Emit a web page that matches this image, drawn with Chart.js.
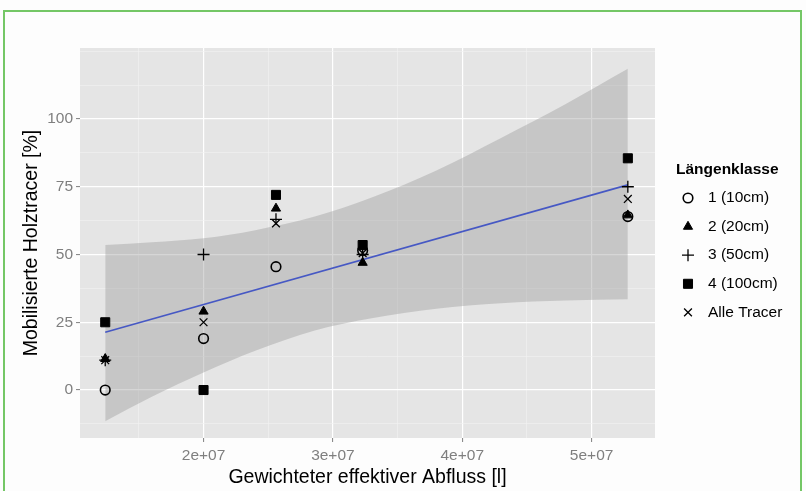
<!DOCTYPE html>
<html>
<head>
<meta charset="utf-8">
<script src="https://cdn.jsdelivr.net/npm/chart.js@4/dist/chart.umd.min.js"></script>
<style>
  html, body { margin: 0; padding: 0; background: #fdfdfd; }
  canvas { display: block; }
</style>
</head>
<body>
<canvas id="myChart" width="806" height="491"></canvas>
<script>
// data
const abfluss = [1.24e7, 2.0e7, 2.56e7, 3.23e7, 5.28e7];
const klasse10 = [0, 19, 45.5, 51.5, 64];
const klasse20 = [11.5, 29, 67, 47, 64.5];
const klasse50 = [11, 50, 63, 50, 75];
const klasse100 = [25, 0, 72, 53.5, 85.5];
const alleTracer = [11, 25, 61.5, 50.5, 70.5];

const fitX = [1.24e7, 5.28e7];
const fitY = [21.3, 75.7];

const ribbonX = [1.24e7, 1.6e7, 2.0e7, 2.4e7, 2.86e7, 3.3e7, 3.8e7, 4.3e7, 4.8e7, 5.28e7];
const ribbonUpper = [53.5, 54.5, 56, 59, 64, 71, 81, 93, 105.5, 118.5];
const ribbonLower = [-11.5, -2.5, 6.5, 14.5, 22, 26.5, 30, 32, 33, 33.5];

const yGrid = [-12.5, 0, 12.5, 25, 37.5, 50, 62.5, 75, 87.5, 100, 112.5, 125];
const xGrid = [1.5e7, 2e7, 2.5e7, 3e7, 3.5e7, 4e7, 4.5e7, 5e7];
const yMajor = [0, 25, 50, 75, 100];
const xMajor = [2e7, 3e7, 4e7, 5e7];

const legendTitle = 'Längenklasse';
const seriesNames = ['1 (10cm)', '2 (20cm)', '3 (50cm)', '4 (100cm)', 'Alle Tracer'];

const pts = (xs, ys) => xs.map((x, i) => ({x: x, y: ys[i]}));

const FONT = "'Liberation Sans', Arial, sans-serif";

const symbolStyles = [
  {pointStyle: 'circle', radius: 4.8, borderWidth: 1.6, fill: 'rgba(0,0,0,0)'},
  {pointStyle: 'triangle', radius: 5.3, borderWidth: 1, fill: '#000'},
  {pointStyle: 'cross', radius: 6, borderWidth: 1.3, fill: '#000'},
  {pointStyle: 'rect', radius: 6.4, borderWidth: 1, fill: '#000'},
  {pointStyle: 'crossRot', radius: 5.5, borderWidth: 1.3, fill: '#000'}
];
const seriesValues = [klasse10, klasse20, klasse50, klasse100, alleTracer];

const pointSets = seriesValues.map((vals, i) => ({
  label: seriesNames[i],
  data: pts(abfluss, vals),
  pointStyle: symbolStyles[i].pointStyle,
  pointRadius: symbolStyles[i].radius,
  pointBorderWidth: symbolStyles[i].borderWidth,
  pointBackgroundColor: symbolStyles[i].fill,
  pointBorderColor: '#000',
  showLine: false
}));

// panel background, frame, legend
const deko = {
  id: 'deko',
  beforeDraw(chart) {
    const ctx = chart.ctx, a = chart.chartArea;
    ctx.save();
    ctx.fillStyle = '#e5e5e5';
    ctx.fillRect(a.left, a.top, a.right - a.left, a.bottom - a.top);
    ctx.strokeStyle = '#74c766';
    ctx.lineWidth = 2;
    ctx.beginPath();
    ctx.moveTo(4, 491);
    ctx.lineTo(4, 11);
    ctx.lineTo(801, 11);
    ctx.lineTo(801, 491);
    ctx.stroke();
    ctx.restore();
  },
  afterDraw(chart) {
    const ctx = chart.ctx;
    ctx.save();
    ctx.fillStyle = '#000';
    ctx.textBaseline = 'middle';
    ctx.font = 'bold 15.5px ' + FONT;
    ctx.fillText(legendTitle, 676, 170);
    ctx.font = '15.5px ' + FONT;
    seriesNames.forEach((name, i) => {
      const y = 198 + i * 28.6;
      const s = symbolStyles[i];
      ctx.fillStyle = s.fill;
      ctx.strokeStyle = '#000';
      ctx.lineWidth = s.borderWidth;
      Chart.helpers.drawPoint(ctx, {pointStyle: s.pointStyle, radius: s.radius, rotation: 0, borderWidth: s.borderWidth}, 688, y);
      ctx.fillStyle = '#000';
      ctx.fillText(name, 708, y);
    });
    ctx.restore();
  }
};

new Chart(document.getElementById('myChart'), {
  type: 'scatter',
  plugins: [deko],
  data: {
    datasets: pointSets.concat([
      {
        label: 'fit',
        data: pts(fitX, fitY),
        showLine: true,
        borderColor: '#4658c4',
        borderWidth: 1.6,
        pointRadius: 0
      },
      {
        label: 'upper',
        data: pts(ribbonX, ribbonUpper),
        showLine: true,
        borderWidth: 0,
        borderColor: 'rgba(0,0,0,0)',
        pointRadius: 0,
        cubicInterpolationMode: 'monotone',
        fill: '+1',
        backgroundColor: 'rgba(153,153,153,0.4)'
      },
      {
        label: 'lower',
        data: pts(ribbonX, ribbonLower),
        showLine: true,
        borderWidth: 0,
        borderColor: 'rgba(0,0,0,0)',
        pointRadius: 0,
        cubicInterpolationMode: 'monotone',
        fill: false
      }
    ])
  },
  options: {
    responsive: false,
    animation: false,
    layout: { padding: { top: 48, right: 151, left: 0, bottom: 0 } },
    plugins: {
      legend: { display: false },
      tooltip: { enabled: false }
    },
    scales: {
      x: {
        type: 'linear',
        min: 1.045e7,
        max: 5.49e7,
        afterBuildTicks: (s) => { s.ticks = xGrid.map(v => ({value: v})); },
        afterFit: (s) => { s.height = 53; },
        border: { display: false },
        grid: {
          color: (c) => xMajor.includes(c.tick && c.tick.value) ? '#ffffff' : '#f2f2f2',
          lineWidth: (c) => xMajor.includes(c.tick && c.tick.value) ? 1.2 : 0.6,
          tickColor: (c) => xMajor.includes(c.tick && c.tick.value) ? '#7f7f7f' : 'rgba(0,0,0,0)',
          tickLength: 4,
          tickWidth: 1
        },
        ticks: {
          autoSkip: false,
          maxRotation: 0,
          padding: 4,
          color: '#7f7f7f',
          font: { family: FONT, size: 15.5 },
          callback: (v) => xMajor.includes(v) ? (v / 1e7) + 'e+07' : ''
        },
        title: {
          display: true,
          text: 'Gewichteter effektiver Abfluss [l]',
          color: '#000',
          font: { family: FONT, size: 19.5 },
          padding: { top: 2, bottom: 2 }
        }
      },
      y: {
        type: 'linear',
        min: -17.7,
        max: 126.2,
        afterBuildTicks: (s) => { s.ticks = yGrid.map(v => ({value: v})); },
        afterFit: (s) => { s.width = 80; },
        border: { display: false },
        grid: {
          color: (c) => yMajor.includes(c.tick && c.tick.value) ? '#ffffff' : '#f2f2f2',
          lineWidth: (c) => yMajor.includes(c.tick && c.tick.value) ? 1.2 : 0.6,
          tickColor: (c) => yMajor.includes(c.tick && c.tick.value) ? '#7f7f7f' : 'rgba(0,0,0,0)',
          tickLength: 4,
          tickWidth: 1
        },
        ticks: {
          autoSkip: false,
          padding: 3,
          color: '#7f7f7f',
          font: { family: FONT, size: 15.5 },
          callback: (v) => yMajor.includes(v) ? String(v) : ''
        },
        title: {
          display: true,
          text: 'Mobilisierte Holztracer [%]',
          color: '#000',
          font: { family: FONT, size: 19.5 },
          padding: { top: 20, bottom: 0 }
        }
      }
    }
  }
});
</script>
</body>
</html>
